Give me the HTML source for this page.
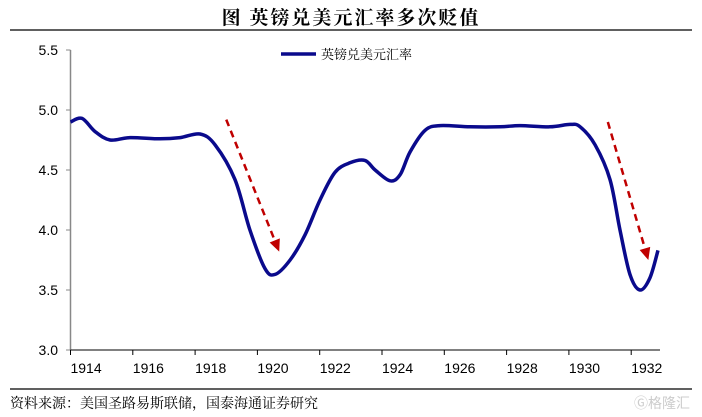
<!DOCTYPE html>
<html><head><meta charset="utf-8"><style>
body{margin:0;background:#fff;}
svg{display:block;font-family:"Liberation Sans","Noto Sans CJK SC",sans-serif;}
</style></head><body>
<svg width="702" height="417" viewBox="0 0 702 417">
<text x="351" y="24" text-anchor="middle" font-size="19" font-weight="bold" letter-spacing="2" font-family="'Noto Serif CJK SC','Noto Sans CJK SC',serif">图  英镑兑美元汇率多次贬值</text>
<line x1="10" y1="30" x2="692" y2="30" stroke="#000" stroke-width="1.2"/>
<g id="axes"></g>
<g id="series"></g>
<g>
<line x1="281" y1="54" x2="316" y2="54" stroke="#0a0a8c" stroke-width="3.5"/>
<text x="321" y="59" font-size="13" font-family="'Noto Serif CJK SC','Noto Sans CJK SC',serif">英镑兑美元汇率</text>
</g>
<line x1="10" y1="389" x2="692" y2="389" stroke="#000" stroke-width="1.2"/>
<text x="10" y="408" font-size="14" font-family="'Noto Serif CJK SC','Noto Sans CJK SC',serif">资料来源：美国圣路易斯联储，国泰海通证券研究</text>
<text x="690" y="408" text-anchor="end" font-size="14" fill="#ccc">Ⓖ格隆汇</text>
</svg>
<script>
const years=[1914,1914.37,1914.79,1915.27,1915.91,1916.87,1917.52,1918.16,1918.64,1919.28,1919.76,1920.24,1920.57,1921.05,1921.53,1922.01,1922.49,1922.97,1923.45,1923.78,1924.26,1924.58,1924.9,1925.38,1925.86,1926.82,1927.79,1928.43,1929.39,1930.04,1930.36,1930.84,1931.32,1931.64,1931.96,1932.28,1932.6,1932.86];
const rates=[4.90,4.93,4.82,4.75,4.77,4.76,4.77,4.80,4.71,4.42,4.0,3.68,3.63,3.75,3.96,4.25,4.48,4.56,4.58,4.50,4.41,4.46,4.65,4.83,4.87,4.86,4.86,4.87,4.86,4.88,4.86,4.71,4.42,4.0,3.63,3.5,3.6,3.83];
const yTicks=[3.0,3.5,4.0,4.5,5.0,5.5];
const xLabels=[1914,1916,1918,1920,1922,1924,1926,1928,1930,1932];
const arrows=[[1919.0,4.92,1920.7,3.82],[1931.25,4.9,1932.55,3.75]];
const NS='http://www.w3.org/2000/svg';
const X=t=>70.5+(t-1914)*31.15;
const Y=v=>350-(v-3)*120;
function mk(tag,attrs,parent){const e=document.createElementNS(NS,tag);for(const k in attrs)e.setAttribute(k,attrs[k]);parent.appendChild(e);return e;}
const ax=document.getElementById('axes'),se=document.getElementById('series');
let e=mk('line',{x1:70.5,y1:Y(5.5),x2:70.5,y2:350,stroke:'#888','stroke-width':1.5},ax);

e=mk('line',{x1:70.5,y1:350,x2:660,y2:350,stroke:'#000','stroke-width':1},ax);

yTicks.forEach(v=>{
 let t=mk('line',{x1:66,y1:Y(v),x2:70.5,y2:Y(v),stroke:'#888'},ax);
 
 let l=mk('text',{x:58,y:Y(v)+5,'text-anchor':'end','font-size':14},ax);l.textContent=v.toFixed(1);
 
});
xLabels.forEach(y=>{
 let t=mk('line',{x1:X(y),y1:350,x2:X(y),y2:355,stroke:'#000'},ax);
 
 let l=mk('text',{x:X(y+0.5),y:373,'text-anchor':'middle','font-size':14},ax);l.textContent=y;
 
});
const pts=years.map((t,i)=>[X(t),Y(rates[i])]);
let d='M'+pts[0][0]+','+pts[0][1];
for(let i=0;i<pts.length-1;i++){const p0=pts[Math.max(0,i-1)],p1=pts[i],p2=pts[i+1],p3=pts[Math.min(pts.length-1,i+2)];
 d+=` C${p1[0]+(p2[0]-p0[0])/6},${p1[1]+(p2[1]-p0[1])/6} ${p2[0]-(p3[0]-p1[0])/6},${p2[1]-(p3[1]-p1[1])/6} ${p2[0]},${p2[1]}`;}
e=mk('path',{d:d,fill:'none',stroke:'#0a0a8c','stroke-width':3.5,'stroke-linejoin':'round'},se);

arrows.forEach(a=>{
 const x1=X(a[0]),y1=Y(a[1]),x2=X(a[2]),y2=Y(a[3]);
 const ang=Math.atan2(y2-y1,x2-x1),L=12;
 const bx=x2-L*Math.cos(ang),by=y2-L*Math.sin(ang);
 let l=mk('line',{x1:x1,y1:y1,x2:bx,y2:by,stroke:'#c00000','stroke-width':2.5,'stroke-dasharray':'7,5'},se);
 
 const px=-Math.sin(ang)*5.5,py=Math.cos(ang)*5.5;
 let h=mk('polygon',{points:`${x2},${y2} ${bx+px},${by+py} ${bx-px},${by-py}`,fill:'#c00000'},se);
 
});
</script>
</body></html>
